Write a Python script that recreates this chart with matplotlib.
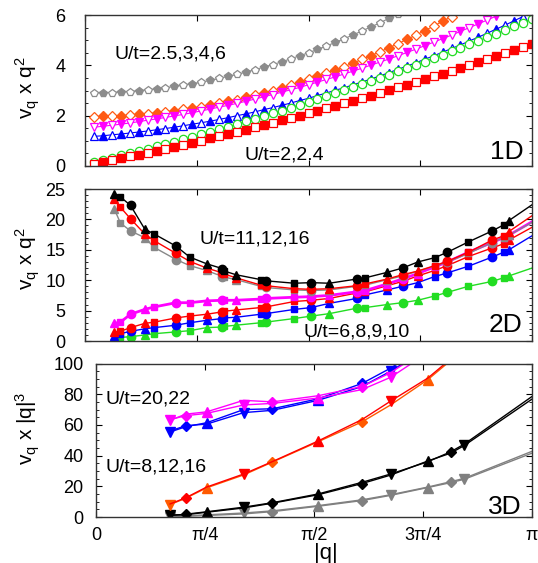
import matplotlib
matplotlib.use("Agg")
import numpy as np
import matplotlib.pyplot as plt
from matplotlib.ticker import MultipleLocator, FixedLocator

plt.rcParams['font.family'] = ['Liberation Sans', 'DejaVu Sans']
plt.rcParams['mathtext.fontset'] = 'custom'
plt.rcParams['mathtext.rm'] = 'Liberation Sans'
plt.rcParams['mathtext.it'] = 'Liberation Sans'

PI = np.pi

# ---------------- 1D data (q = k*pi/50) ----------------
q1d = np.arange(1, 51) * PI / 50
y1d_gray = [2.90, 2.91, 2.92, 2.94, 2.96, 2.99, 3.03, 3.06, 3.11, 3.16, 3.21, 3.27, 3.33, 3.40, 3.48,
            3.56, 3.64, 3.73, 3.83, 3.93, 4.03, 4.14, 4.26, 4.38, 4.50, 4.63, 4.77, 4.91, 5.06, 5.21,
            5.37, 5.53, 5.69, 5.87, 6.04]
y1d_orange = [1.96, 1.97, 1.98, 2.00, 2.02, 2.05, 2.08, 2.11, 2.15, 2.20, 2.25, 2.30, 2.36, 2.42, 2.49,
              2.57, 2.64, 2.73, 2.82, 2.91, 3.00, 3.11, 3.21, 3.32, 3.44, 3.56, 3.69, 3.82, 3.95, 4.09,
              4.24, 4.39, 4.54, 4.70, 4.86, 5.03, 5.20, 5.38, 5.56, 5.75, 5.94]
y1d_magenta = [1.54, 1.58, 1.62, 1.66, 1.71, 1.76, 1.82, 1.87, 1.93, 1.99, 2.05, 2.12, 2.19, 2.26, 2.34,
               2.41, 2.49, 2.57, 2.66, 2.75, 2.84, 2.93, 3.03, 3.12, 3.23, 3.33, 3.44, 3.54, 3.66, 3.77,
               3.89, 4.01, 4.13, 4.25, 4.38, 4.51, 4.64, 4.78, 4.92, 5.06, 5.20, 5.35, 5.50, 5.65, 5.80,
               5.96]
y1d_blue = [1.18, 1.20, 1.24, 1.27, 1.31, 1.35, 1.39, 1.44, 1.49, 1.54, 1.60, 1.66, 1.72, 1.78, 1.85,
            1.92, 2.00, 2.07, 2.15, 2.24, 2.32, 2.41, 2.50, 2.60, 2.69, 2.80, 2.90, 3.01, 3.11, 3.23,
            3.34, 3.46, 3.58, 3.71, 3.84, 3.97, 4.10, 4.24, 4.38, 4.52, 4.67, 4.81, 4.97, 5.12, 5.28,
            5.44, 5.60, 5.77, 5.94]
y1d_green = [0.16, 0.25, 0.33, 0.42, 0.51, 0.59, 0.68, 0.78, 0.87, 0.96, 1.06, 1.16, 1.26, 1.35, 1.46,
             1.56, 1.66, 1.77, 1.87, 1.98, 2.09, 2.20, 2.31, 2.43, 2.54, 2.66, 2.77, 2.89, 3.01, 3.13,
             3.26, 3.38, 3.51, 3.63, 3.76, 3.89, 4.02, 4.15, 4.29, 4.42, 4.56, 4.70, 4.83, 4.97, 5.12,
             5.26, 5.40, 5.55, 5.69, 5.84]
y1d_red = [0.09, 0.16, 0.23, 0.30, 0.38, 0.45, 0.53, 0.61, 0.69, 0.77, 0.85, 0.93, 1.01, 1.10, 1.18,
           1.27, 1.35, 1.44, 1.53, 1.62, 1.71, 1.81, 1.90, 2.00, 2.09, 2.19, 2.29, 2.39, 2.49, 2.59,
           2.69, 2.80, 2.90, 3.01, 3.12, 3.22, 3.33, 3.45, 3.56, 3.67, 3.78, 3.90, 4.01, 4.13, 4.25,
           4.37, 4.49, 4.61, 4.73, 4.86]

# ---------------- 2D data ----------------
q2d = [0.206, 0.249, 0.320, 0.420, 0.486, 0.640, 0.736, 0.855, 0.966, 0.980, 1.061, 1.234, 1.270, 1.472,
       1.591, 1.717, 1.911, 1.971, 2.125, 2.232, 2.339, 2.457, 2.547, 2.695, 2.861, 2.943, 2.979, PI]
m2d = ['^', 's', 'o', '^', 's', 'o', 's', '^', 'o', 's', '^', 's', 'o', 's', 'o', '^', 'o', 's', '^',
       'o', '^', 's', 'o', 's', 'o', 's', '^']
y2d_black = [24.2, 23.7, 22.3, 18.4, 17.6, 15.6, 13.8, 12.7, 11.9, 11.5, 10.9, 10.1, 9.9, 9.5, 9.6, 9.5,
             10.2, 10.4, 11.3, 12.0, 13.0, 13.7, 14.6, 16.3, 18.1, 19.1, 19.8, 22.4]
y2d_red_hi = [23.3, 22.0, 20.1, 17.6, 16.5, 14.4, 13.1, 12.0, 11.2, 11.0, 10.4, 9.2, 9.1, 8.6, 8.5, 8.6,
              9.1, 9.4, 10.2, 10.9, 11.5, 12.4, 13.1, 14.6, 16.6, 17.3, 18.0, 20.6]
y2d_gray = [21.7, 19.4, 18.1, 17.0, 15.4, 13.4, 12.4, 11.6, 10.6, 10.5, 10.1, 9.0, 8.8, 8.4, 8.3, 8.4,
            9.0, 9.2, 10.1, 10.7, 11.5, 12.3, 13.0, 14.4, 16.2, 17.0, 17.4, 19.5]
y2d_magenta = [2.9, 3.1, 4.4, 5.2, 5.6, 6.3, 6.3, 6.6, 6.7, 6.7, 6.7, 6.9, 7.0, 7.2, 7.3, 7.5, 8.1, 8.3,
               9.4, 10.2, 11.1, 12.2, 13.0, 14.6, 16.2, 17.0, 17.4, 19.6]
y2d_red_lo = [1.5, 1.6, 2.2, 2.9, 3.1, 3.8, 4.1, 4.4, 4.8, 4.9, 5.1, 5.5, 5.6, 6.5, 6.7, 7.0, 7.9, 8.1,
              9.1, 9.8, 10.7, 11.6, 12.4, 13.9, 15.3, 16.0, 16.6, 18.7]
y2d_blue = [0.9, 1.2, 1.6, 2.0, 2.2, 2.6, 3.0, 3.4, 3.7, 3.8, 3.9, 4.4, 4.5, 5.2, 5.5, 6.2, 7.0, 7.6,
            8.4, 9.0, 9.6, 10.6, 11.2, 12.3, 13.8, 14.6, 15.0, 17.3]
y2d_green = [0.5, 0.6, 0.7, 1.0, 1.2, 1.5, 1.7, 2.2, 2.3, 2.4, 2.6, 3.0, 3.1, 3.7, 4.1, 4.5, 5.4, 5.5,
             6.0, 6.3, 6.7, 7.4, 8.0, 9.0, 9.8, 10.4, 10.7, 12.0]

# ---------------- 3D data ----------------
q3d = [0.534, 0.646, 0.797, 1.064, 1.271, 1.600, 1.917, 2.123, 2.391, 2.556, 2.654, PI]
m3d = ['v', 'D', '^', 'v', 'D', '^', 'D', 'v', '^', 'D', 'v']
y3d_magenta_a = [63.0, 67.0, 68.5, 76.0, 75.0, 79.0, 85.0, 94.0, 110.0]
y3d_magenta_b = [63.5, 66.0, 67.5, 73.0, 74.0, 77.5, 83.0, 91.0, 107.0]
y3d_blue_a = [55.4, 58.8, 61.4, 70.0, 70.5, 77.0, 87.0, 97.0, 112.0]
y3d_blue_b = [56.0, 59.5, 60.5, 68.0, 69.5, 76.0, 85.0, 95.0, 110.0]
y3d_red = [8.5, 12.5, 19.5, 28.0, 36.1, 49.5, 63.5, 75.5, 90.5, 103.0, 110.0]
y3d_orange = [8.1, 12.2, 19.0, 27.4, 35.8, 49.0, 62.0, 73.0, 89.5, 102.0, 109.0]
y3d_black_a = [1.3, 1.5, 3.1, 5.9, 9.0, 14.5, 21.8, 27.3, 36.5, 41.6, 46.6, 76.8]
y3d_black_b = [1.0, 1.8, 3.4, 6.4, 9.3, 15.0, 22.6, 28.0, 36.0, 42.5, 47.5, 78.5]
y3d_gray_a = [0.3, 0.5, 1.0, 2.0, 3.5, 7.0, 10.7, 14.1, 19.2, 22.4, 24.6, 41.6]
y3d_gray_b = [0.5, 0.8, 1.4, 2.6, 4.0, 7.4, 11.2, 14.5, 19.5, 23.0, 25.2, 42.8]

xticks = [0, PI / 4, PI / 2, 3 * PI / 4, PI]
xticklabels = ['0', 'π/4', 'π/2', '3π/4', 'π']

W, H = 538, 563
fig = plt.figure(figsize=(W / 100, H / 100), dpi=100)
ax1 = fig.add_axes([85 / W, 1 - 166 / H, 447 / W, 151 / H])
ax2 = fig.add_axes([85 / W, 1 - 341 / H, 447 / W, 152 / H])
ax3 = fig.add_axes([96 / W, 1 - 517 / H, 436 / W, 153.5 / H])


def style(ax, ymax, major, minor, pad):
    ax.set_xlim(0, PI)
    ax.set_ylim(0, ymax)
    ax.xaxis.set_major_locator(FixedLocator(xticks))
    ax.yaxis.set_major_locator(MultipleLocator(major))
    ax.yaxis.set_minor_locator(MultipleLocator(minor))
    ax.tick_params(which='both', direction='in', top=True, right=True, labelsize=13)
    ax.tick_params(which='major', length=4, width=0.8)
    ax.tick_params(which='minor', length=2, width=0.6)
    ax.tick_params(axis='y', pad=pad)
    for s in ax.spines.values():
        s.set_linewidth(1.0)
        s.set_color('#333333')


# ---- 1D panel
ser1 = [(y1d_gray, '#8c8c8c', 'p', True), (y1d_orange, '#ff5a14', 'D', True),
        (y1d_magenta, '#ff00ff', 'v', True), (y1d_blue, '#0000ff', '^', True),
        (y1d_green, '#22dd22', 'o', False), (y1d_red, '#ff0000', 's', True)]
for y, c, m, alt in ser1:
    q = q1d[:len(y)]
    y = np.array(y)
    ms = 5 if m == 'D' else 6
    ax1.plot(q, y, '-', color=c, lw=0.8)
    ax1.plot(q[0::2], y[0::2], ls='none', marker=m, mfc='white', mec=c, ms=ms, mew=0.9)
    if alt:
        ax1.plot(q[1::2], y[1::2], ls='none', marker=m, mfc=c, mec=c, ms=ms)
    else:
        ax1.plot(q[1::2], y[1::2], ls='none', marker=m, mfc='white', mec=c, ms=ms, mew=0.9)
style(ax1, 6, 2, 0.5, 14)
ax1.set_xticklabels([])
ax1.text(0.065, 0.742, 'U/t=2.5,3,4,6', transform=ax1.transAxes, fontsize=14, va='center')
ax1.text(0.356, 0.073, 'U/t=2,2.4', transform=ax1.transAxes, fontsize=14, va='center')
ax1.text(0.982, 0.093, '1D', transform=ax1.transAxes, fontsize=19, ha='right', va='center')

# ---- 2D panel
ser2 = [(y2d_green, '#22dd22', 1.0), (y2d_blue, '#0000ff', 1.0), (y2d_red_lo, '#ff0000', 1.0),
        (y2d_magenta, '#ff00ff', 2.0), (y2d_gray, '#888888', 1.0), (y2d_red_hi, '#ff0000', 1.0),
        (y2d_black, '#000000', 1.0)]
qa = np.array(q2d)
for y, c, lw in ser2:
    y = np.array(y)
    ax2.plot(qa, y, '-', color=c, lw=lw)
    pts = np.array(m2d)
    for m in ['o', 's', '^']:
        idx = np.where(pts == m)[0]
        ms = {'o': 6, 's': 4.5, '^': 5.5}[m]
        ax2.plot(qa[idx], y[idx], ls='none', marker=m, color=c, ms=ms)
style(ax2, 25, 5, 1, 14)
ax2.set_xticklabels([])
ax2.text(0.257, 0.671, 'U/t=11,12,16', transform=ax2.transAxes, fontsize=14, va='center')
ax2.text(0.488, 0.059, 'U/t=6,8,9,10', transform=ax2.transAxes, fontsize=14, va='center')
ax2.text(0.978, 0.105, '2D', transform=ax2.transAxes, fontsize=19, ha='right', va='center')

# ---- 3D panel
ser3 = [(y3d_gray_a, y3d_gray_b, '#808080', '#808080'),
        (y3d_black_a, y3d_black_b, '#000000', '#000000'),
        (y3d_orange, y3d_red, '#ff5a00', '#ff0000'),
        (y3d_blue_a, y3d_blue_b, '#0000ff', '#0000ff'),
        (y3d_magenta_a, y3d_magenta_b, '#ff00ff', '#ff00ff')]
qb = np.array(q3d)
for ya, yb, ca, cb in ser3:
    for j, (y, c) in enumerate([(ya, ca), (yb, cb)]):
        y = np.array(y)
        q = qb[:len(y)]
        ax3.plot(q, y, '-', color=c, lw=1.0)
        for i in range(j, min(len(y), len(m3d)), 2):
            ms = 5 if m3d[i] == 'D' else 6.5
            ax3.plot(q[i], y[i], ls='none', marker=m3d[i], color=c, ms=ms)
style(ax3, 100, 20, 5, 9)
ax3.set_xticklabels(xticklabels)
ax3.tick_params(axis='x', pad=7)
ax3.text(0.021, 0.769, 'U/t=20,22', transform=ax3.transAxes, fontsize=14, va='center')
ax3.text(0.021, 0.326, 'U/t=8,12,16', transform=ax3.transAxes, fontsize=14, va='center')
ax3.text(0.977, 0.065, '3D', transform=ax3.transAxes, fontsize=19, ha='right', va='center')

# axis labels
fig.text(28 / W, 1 - 88 / H, r'v$_\mathrm{q}$ x q$^2$', rotation=90, fontsize=15, ha='center', va='center')
fig.text(28 / W, 1 - 259 / H, r'v$_\mathrm{q}$ x q$^2$', rotation=90, fontsize=15, ha='center', va='center')
fig.text(28 / W, 1 - 428 / H, r'v$_\mathrm{q}$ x |q|$^3$', rotation=90, fontsize=15, ha='center', va='center')
fig.text(326 / W, 1 - 553 / H, '|q|', fontsize=16, ha='center', va='center')

fig.savefig('out.png', dpi=100)
